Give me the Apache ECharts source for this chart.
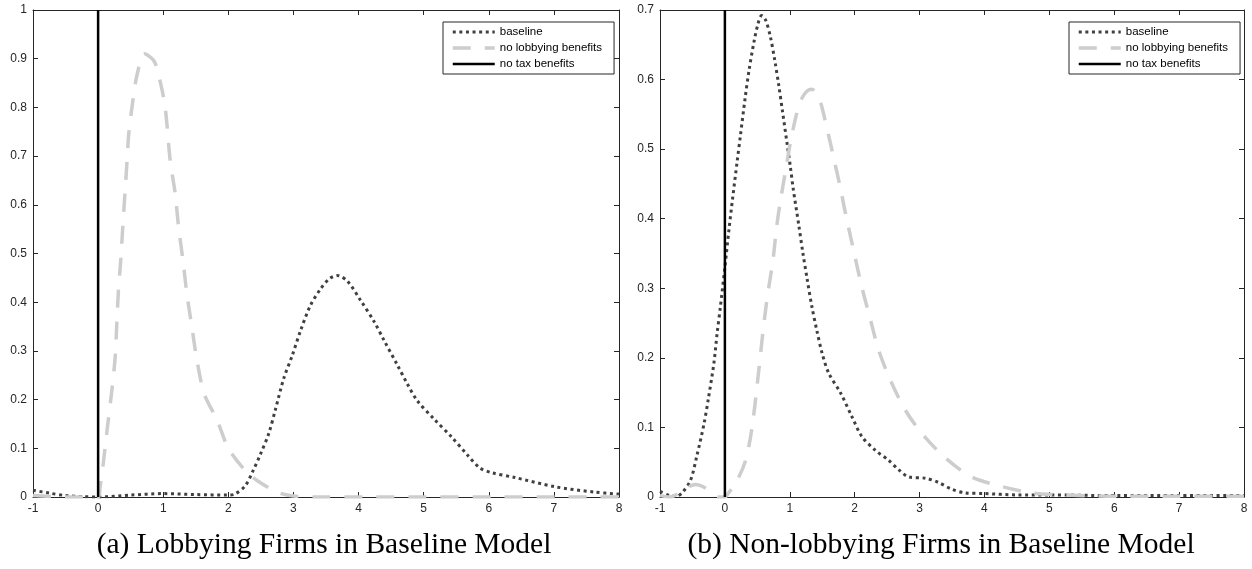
<!DOCTYPE html>
<html>
<head>
<meta charset="utf-8">
<script src="https://cdn.jsdelivr.net/npm/echarts@6/dist/echarts.min.js"></script>
<style>
  html, body { margin: 0; padding: 0; background: #fff; }
  #chart { width: 1252px; height: 569px; }
</style>
</head>
<body>
<div id="chart"></div>
<script>
// panel (a) lobbying firms
var xA_base = [-1, -0.75, -0.5, -0.25, 0, 0.5, 1, 1.5, 2, 2.1, 2.26, 2.38, 2.5, 2.62, 2.72, 2.85, 2.98, 3.11, 3.26, 3.42, 3.55, 3.67, 3.83, 4.03, 4.24, 4.39, 4.6, 4.75, 4.9, 5.16, 5.43, 5.68, 5.86, 6.04, 6.4, 7.02, 7.63, 8];
var yA_base = [0.014, 0.008, 0.003, 0.001, 0, 0.004, 0.007, 0.005, 0.004, 0.006, 0.023, 0.054, 0.09, 0.13, 0.178, 0.243, 0.29, 0.342, 0.393, 0.428, 0.448, 0.455, 0.443, 0.404, 0.36, 0.322, 0.27, 0.232, 0.198, 0.16, 0.123, 0.085, 0.06, 0.05, 0.04, 0.021, 0.01, 0.006];
var xA_nolob = [-1, -0.5, 0, 0.03, 0.08, 0.14, 0.211, 0.262, 0.287, 0.312, 0.349, 0.38, 0.415, 0.451, 0.47, 0.54, 0.6, 0.71, 0.86, 0.95, 1.03, 1.108, 1.185, 1.236, 1.303, 1.364, 1.44, 1.518, 1.63, 1.83, 2.0, 2.26, 2.44, 2.75, 3.0, 3.5, 8];
var yA_nolob = [0.003, 0, 0, 0.02, 0.07, 0.14, 0.219, 0.287, 0.356, 0.424, 0.489, 0.557, 0.629, 0.704, 0.745, 0.82, 0.868, 0.91, 0.895, 0.855, 0.8, 0.69, 0.622, 0.554, 0.486, 0.417, 0.349, 0.281, 0.212, 0.157, 0.1, 0.054, 0.034, 0.01, 0.002, 0, 0];
var xA_notax = [0, 0];
var yA_notax = [0, 1];

// panel (b) non-lobbying firms
var xB_base = [-1, -0.85, -0.75, -0.66, -0.53, -0.43, -0.32, -0.25, -0.17, -0.12, -0.07, 0, 0.06, 0.12, 0.19, 0.24, 0.31, 0.37, 0.45, 0.51, 0.565, 0.63, 0.7, 0.77, 0.83, 0.89, 0.96, 1.01, 1.05, 1.14, 1.2, 1.27, 1.34, 1.42, 1.5, 1.6, 1.78, 1.96, 2.11, 2.32, 2.52, 2.68, 2.83, 3.09, 3.29, 3.5, 3.7, 4, 4.5, 5, 6, 7, 8];
var yB_base = [0.008, 0.002, 0.001, 0.006, 0.024, 0.06, 0.106, 0.144, 0.192, 0.235, 0.273, 0.33, 0.382, 0.43, 0.483, 0.52, 0.572, 0.612, 0.655, 0.68, 0.692, 0.685, 0.662, 0.627, 0.592, 0.553, 0.507, 0.474, 0.445, 0.39, 0.352, 0.312, 0.274, 0.238, 0.206, 0.178, 0.15, 0.115, 0.087, 0.067, 0.053, 0.039, 0.029, 0.027, 0.021, 0.011, 0.006, 0.005, 0.003, 0.003, 0.002, 0.002, 0.002];
var xB_nolob = [-1, -0.85, -0.7, -0.55, -0.45, -0.3, -0.2, -0.1, 0, 0.035, 0.19, 0.32, 0.42, 0.52, 0.58, 0.65, 0.74, 0.8, 0.86, 0.93, 1.01, 1.09, 1.16, 1.25, 1.34, 1.45, 1.57, 1.68, 1.78, 1.86, 1.98, 2.11, 2.24, 2.37, 2.55, 2.78, 3.04, 3.4, 3.8, 4.27, 4.73, 5.2, 6, 7, 8];
var yB_nolob = [0.002, 0, 0.006, 0.015, 0.018, 0.013, 0.005, 0, 0, 0.003, 0.024, 0.053, 0.101, 0.18, 0.232, 0.285, 0.34, 0.39, 0.428, 0.466, 0.51, 0.545, 0.568, 0.582, 0.586, 0.574, 0.531, 0.486, 0.444, 0.407, 0.356, 0.302, 0.256, 0.211, 0.168, 0.125, 0.091, 0.056, 0.029, 0.015, 0.006, 0.003, 0.001, 0.001, 0.001];
var xB_notax = [0, 0];
var yB_notax = [0, 0.7];

var names = ['baseline', 'no lobbying benefits', 'no tax benefits'];
var captions = ['(a) Lobbying Firms in Baseline Model', '(b) Non-lobbying Firms in Baseline Model'];

function pairs(xs, ys) {
  return xs.map(function (x, i) { return [x, ys[i]]; });
}

var AX = '#262626';
var styles = [
  { color: '#404040', width: 3, type: [3, 3.6] },
  { color: '#cdcdcd', width: 3.5, type: [18, 14] },
  { color: '#000000', width: 2.5, type: 'solid' }
];

function xAxes(grid) {
  var base = {
    type: 'value', gridIndex: grid, min: -1, max: 8, interval: 1,
    axisLine: { onZero: false, lineStyle: { color: AX, width: 1 } },
    axisTick: { inside: true, length: 5, lineStyle: { color: AX } },
    splitLine: { show: false }
  };
  var bottom = Object.assign({}, base, {
    position: 'bottom',
    axisLabel: { color: AX, fontSize: 12, fontFamily: 'Liberation Sans', margin: 6 }
  });
  var top = Object.assign({}, base, { position: 'top', axisLabel: { show: false } });
  return [bottom, top];
}

function yAxes(grid, max) {
  var base = {
    type: 'value', gridIndex: grid, min: 0, max: max, interval: 0.1,
    axisLine: { show: true, onZero: false, lineStyle: { color: AX, width: 1 } },
    axisTick: { show: true, inside: true, length: 5, lineStyle: { color: AX } },
    splitLine: { show: false }
  };
  var left = Object.assign({}, base, {
    position: 'left',
    axisLabel: {
      color: AX, fontSize: 12, fontFamily: 'Liberation Sans', margin: 6,
      formatter: function (v) { return String(Math.round(v * 10) / 10); }
    }
  });
  var right = Object.assign({}, base, { position: 'right', axisLabel: { show: false } });
  return [left, right];
}

function lineSeries(k, grid, xs, ys) {
  var s = styles[k];
  return {
    name: names[k], type: 'line', xAxisIndex: grid * 2, yAxisIndex: grid * 2,
    data: pairs(xs, ys), showSymbol: false, symbol: 'none',
    smooth: k === 2 ? false : 0.3,
    lineStyle: { color: s.color, width: s.width, type: s.type, cap: 'butt' },
    itemStyle: { color: s.color },
    z: 2 + k, silent: true, animation: false
  };
}

function legendFor(left) {
  return {
    orient: 'vertical', left: left, top: 22,
    itemWidth: 42, itemHeight: 13, itemGap: 4,
    padding: [4, 12, 4, 8],
    borderColor: AX, borderWidth: 1, backgroundColor: '#fff',
    textStyle: { color: '#000', fontSize: 11.5, fontFamily: 'Liberation Sans' },
    selectedMode: false,
    data: names.map(function (n, k) {
      return {
        name: n,
        itemStyle: { opacity: 0 },
        lineStyle: { color: styles[k].color, width: styles[k].width, type: styles[k].type }
      };
    })
  };
}

var captionStyle = { fontFamily: 'Liberation Serif', fontSize: 29.5, fontWeight: 'normal', color: '#000' };

var chart = echarts.init(document.getElementById('chart'), null, { renderer: 'canvas' });
chart.setOption({
  animation: false,
  backgroundColor: '#ffffff',
  title: [
    { text: captions[0], left: 319, top: 525, textAlign: 'center', textStyle: captionStyle },
    { text: captions[1], left: 936, top: 525, textAlign: 'center', textStyle: captionStyle }
  ],
  legend: [legendFor(443), legendFor(1069)],
  grid: [
    { left: 33, right: 633, top: 10, bottom: 72 },
    { left: 660, right: 8, top: 10, bottom: 72 }
  ],
  xAxis: xAxes(0).concat(xAxes(1)),
  yAxis: yAxes(0, 1).concat(yAxes(1, 0.7)),
  series: [
    lineSeries(0, 0, xA_base, yA_base),
    lineSeries(1, 0, xA_nolob, yA_nolob),
    lineSeries(2, 0, xA_notax, yA_notax),
    lineSeries(0, 1, xB_base, yB_base),
    lineSeries(1, 1, xB_nolob, yB_nolob),
    lineSeries(2, 1, xB_notax, yB_notax)
  ]
});
</script>
</body>
</html>
